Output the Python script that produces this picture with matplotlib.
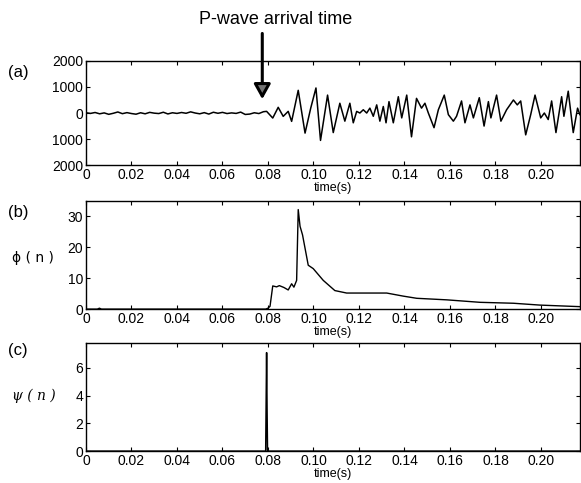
# plot.py
# Seismic trace with P-wave picking functions phi(n) and psi(n).

import matplotlib
matplotlib.use("Agg")
import matplotlib.pyplot as plt

plt.rcParams['font.family'] = ['Liberation Sans', 'DejaVu Sans']

# (a) seismic trace
seis_t = [0.000, 0.002, 0.004, 0.006, 0.008, 0.010, 0.012, 0.014, 0.016, 0.018,
          0.020, 0.022, 0.024, 0.026, 0.028, 0.030, 0.032, 0.034, 0.036, 0.038,
          0.040, 0.042, 0.044, 0.046, 0.048, 0.050, 0.052, 0.054, 0.056, 0.058,
          0.060, 0.062, 0.064, 0.066, 0.068, 0.070, 0.072, 0.074, 0.076, 0.078,
          0.0794, 0.0821, 0.0845, 0.0867, 0.0889, 0.0904, 0.0933, 0.0963, 0.0988,
          0.1011, 0.1031, 0.1062, 0.1087, 0.1116, 0.1138, 0.1160, 0.1175, 0.1190,
          0.1204, 0.1219, 0.1234, 0.1248, 0.1263, 0.1278, 0.1292, 0.1307, 0.1319,
          0.1332, 0.1351, 0.1373, 0.1388, 0.1410, 0.1431, 0.1453, 0.1475, 0.1490,
          0.1505, 0.1530, 0.1549, 0.1575, 0.1593, 0.1615, 0.1629, 0.1651, 0.1666,
          0.1688, 0.1703, 0.1729, 0.1750, 0.1769, 0.1780, 0.1805, 0.1824, 0.1849,
          0.1864, 0.1879, 0.1896, 0.1911, 0.1933, 0.1955, 0.1974, 0.1999, 0.2015,
          0.2032, 0.2047, 0.2066, 0.2091, 0.2101, 0.2120, 0.2142, 0.2161, 0.2171]
seis_amp = [10, -15, 20, -30, 5, -50, -10, 40, -25, 15,
            -20, -45, 10, -30, 25, -5, -20, 30, -35, 10,
            -15, 20, -10, 45, 0, -30, 15, -40, 30, -10,
            25, -20, 5, -15, 35, -55, -40, 10, -20, 50,
            64, -192, 218, -128, 64, -320, 870, -770, 190,
            960, -1050, 687, -750, 375, -312, 375, -375, 62,
            0, 125, 0, 187, -125, 312, -312, 250, -375,
            437, -375, 625, -187, 687, -912, 562, 187, 375,
            0, -562, 125, 687, -62, -312, -125, 462, -375,
            312, -187, 587, -500, 437, -187, 687, -312, 125,
            312, 500, 312, 462, -837, -62, 687, -187, 0,
            -250, 462, -750, 625, -125, 837, -750, 187, -62]

# (b) phi(n)
phi_t = [0.000, 0.0050, 0.0059, 0.0068, 0.0790, 0.0800, 0.0809, 0.0821, 0.0838,
         0.0850, 0.0870, 0.0889, 0.0904, 0.0914, 0.0926, 0.0933, 0.0941, 0.0952,
         0.0977, 0.0999, 0.1043, 0.1094, 0.1146, 0.1219, 0.1322, 0.1395, 0.1454,
         0.1586, 0.1732, 0.1879, 0.1996, 0.2171]
phi_val = [0.0, 0.0, 0.3, 0.0, 0.0, 0.3, 0.9, 7.5, 7.2,
           7.6, 7.0, 6.2, 8.2, 7.1, 9.3, 32.2, 26.8, 24.0,
           14.2, 13.1, 9.3, 6.0, 5.2, 5.2, 5.2, 4.2, 3.5,
           3.0, 2.2, 1.9, 1.3, 0.8]

# (c) psi(n)
psi_t = [0.000, 0.0790, 0.0794, 0.0796, 0.0798, 0.2171]
psi_val = [0.0, 0.0, 7.1, 3.0, 0.0, 0.0]

x_ticks = [0, 0.02, 0.04, 0.06, 0.08, 0.10, 0.12, 0.14, 0.16, 0.18, 0.20]
x_labels = ['0', '0.02', '0.04', '0.06', '0.08', '0.10', '0.12', '0.14',
            '0.16', '0.18', '0.20']
a_yticks = [2000, 1000, 0, -1000, -2000]
a_ylabels = ['2000', '1000', '0', '1000', '2000']

fig = plt.figure(figsize=(5.81, 4.83), dpi=100)
ax_a = fig.add_axes([0.148, 0.658, 0.850, 0.216])
ax_b = fig.add_axes([0.148, 0.360, 0.850, 0.224])
ax_c = fig.add_axes([0.148, 0.066, 0.850, 0.224])

ax_a.plot(seis_t, seis_amp, color='black', lw=1.1)
ax_b.plot(phi_t, phi_val, color='black', lw=1.0)
ax_c.plot(psi_t, psi_val, color='black', lw=1.1)

ax_a.set_ylim(-2000, 2000)
ax_a.set_yticks(a_yticks)
ax_a.set_yticklabels(a_ylabels)
ax_b.set_ylim(0, 35)
ax_b.set_yticks([0, 10, 20, 30])
ax_c.set_ylim(0, 7.8)
ax_c.set_yticks([0, 2, 4, 6])

for ax in (ax_a, ax_b, ax_c):
    ax.set_xlim(0, 0.2171)
    ax.set_xticks(x_ticks)
    ax.set_xticklabels(x_labels)
    ax.tick_params(direction='in', top=True, right=True, length=3,
                   width=0.8, labelsize=10, pad=2)
    ax.set_xlabel('time(s)', fontsize=9, labelpad=0)
    for s in ax.spines.values():
        s.set_linewidth(1.0)

# panel tags and y labels
fig.text(0.013, 0.849, '(a)', fontsize=12, va='center')
fig.text(0.013, 0.561, '(b)', fontsize=12, va='center')
fig.text(0.013, 0.275, '(c)', fontsize=12, va='center')
fig.text(0.020, 0.466, 'ϕ ( n )', fontsize=10, va='center', family='DejaVu Sans')
fig.text(0.020, 0.180, 'ψ ( n )', fontsize=10, va='center', family='DejaVu Serif',
         style='italic')

# P-wave arrival annotation
fig.text(0.475, 0.959, 'P-wave arrival time', fontsize=13, ha='center', va='center')
ax_a.annotate('', xy=(0.0775, 530), xytext=(0.0775, 3050),
              annotation_clip=False,
              arrowprops=dict(arrowstyle='-|>,head_width=0.5,head_length=0.9',
                              fc='0.45', ec='black', lw=2.2, shrinkA=0, shrinkB=0))

fig.savefig('out.png', dpi=100)
